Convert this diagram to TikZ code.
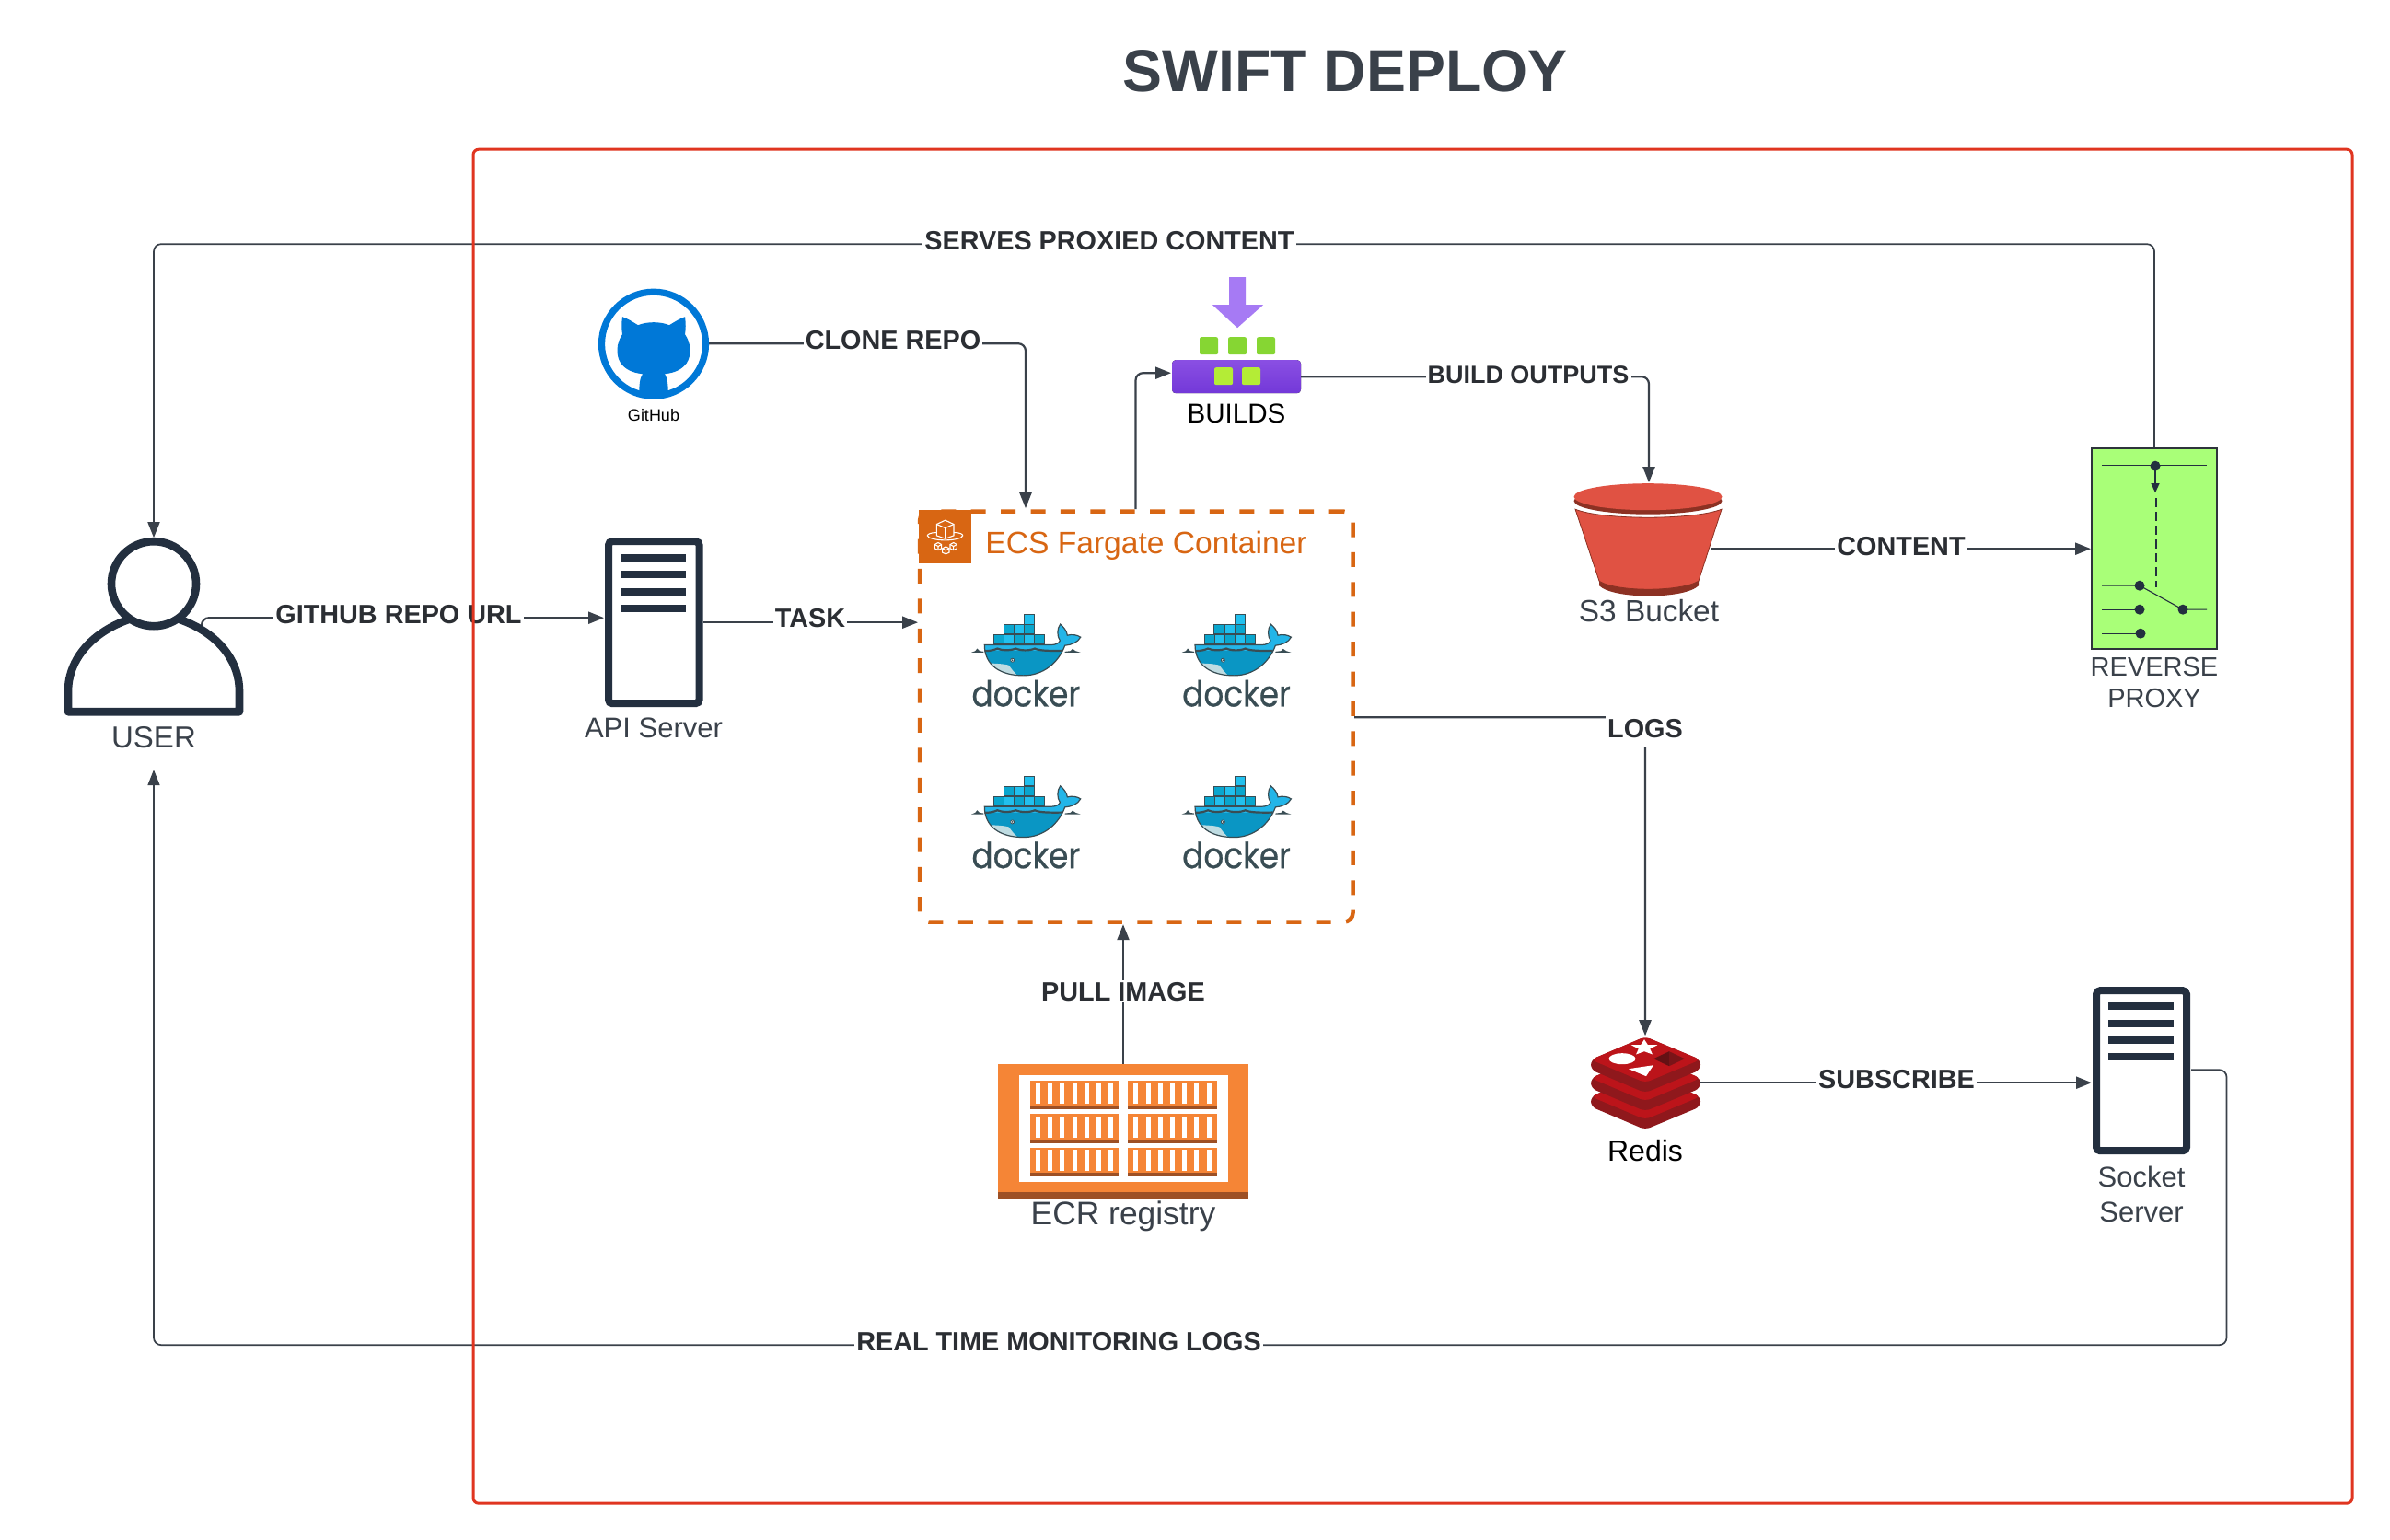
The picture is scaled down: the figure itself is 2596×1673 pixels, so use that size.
\documentclass[tikz,border=0pt]{standalone}
\usepackage{fontspec}
\setmainfont{Liberation Sans}
\newfontfamily\dockerfont{Poppins}[FakeBold=0.5]
\usetikzlibrary{arrows.meta,calc}
\definecolor{ink}{HTML}{3A414A}
\definecolor{lblink}{HTML}{2B2E33}
\definecolor{navy}{HTML}{232F3F}
\definecolor{framered}{HTML}{E03520}
\definecolor{ecsor}{HTML}{D86613}
\definecolor{ghblue}{HTML}{0078D7}
\definecolor{ecror}{HTML}{F58536}
\definecolor{ecrdk}{HTML}{9D5025}
\definecolor{s3l}{HTML}{E05243}
\definecolor{s3d}{HTML}{8C3123}
\definecolor{redl}{HTML}{BC141A}
\definecolor{redd}{HTML}{8F181C}
\definecolor{dkline}{HTML}{394D54}
\definecolor{dkdark}{HTML}{09A6CE}
\definecolor{dklight}{HTML}{22C0EE}
\definecolor{dkbody}{HTML}{0A96C4}
\definecolor{dkband}{HTML}{23B5E8}
\definecolor{dkbelly}{HTML}{BFDCE2}
\definecolor{proxyg}{HTML}{A9FF78}
\definecolor{barTop}{HTML}{8A4FE3}
\definecolor{barBot}{HTML}{7338D8}
\definecolor{sqA}{HTML}{B4EC36}
\definecolor{sqB}{HTML}{86D633}
\definecolor{arrowV}{HTML}{A67AF4}
\tikzset{
  conn/.style={draw=ink,line width=1.1pt,rounded corners=4pt,-{Triangle[length=8.5pt,width=6.5pt]}},
  connthin/.style={conn,line width=0.85pt},
  lbl/.style={fill=white,inner xsep=1pt,inner ysep=1pt,text=lblink,font={\fontsize{14.4pt}{17pt}\selectfont\bfseries}},
  captxt/.style={inner sep=0pt,text=ink,align=center,font={\fontsize{15.5pt}{17pt}\selectfont}},
  capk/.style={inner sep=0pt,text=black,align=center,font={\fontsize{15pt}{17pt}\selectfont}},
  srv/.style={draw=navy,line width=4pt,fill=white,rounded corners=2pt,inner sep=0pt},
  ghost/.style={inner sep=0pt,outer sep=0pt},
}
\newcommand\servlines[3]{% x1 x2 y0
  \foreach \k in {0,1,2,3}{\fill[navy] (#1,{#3+\k*18.3-4}) rectangle (#2,{#3+\k*18.3+4});}}
\newcommand\dockerlogo[3]{%
\begin{scope}[shift={(#2,#3)},x=0.16667pt,y=-0.16667pt]
  \foreach \xx/\yy/\cc in {238/445/dkdark,271/445/dklight,304/445/dkdark,337/445/dklight,370/445/dkdark,
                           270/412/dkdark,304/412/dklight,337/412/dkdark,337/380/dklight}{
    \filldraw[fill=\cc,draw=dkline,line width=0.5pt] (\xx,\yy) rectangle ++(33,31);}
  \def\whalepath{(208,478) -- (425,478) .. controls (440,478) and (452,472) .. (454,464) .. controls (444,450) and (444,425) .. (455,411) .. controls (466,420) and (476,432) .. (478,447) .. controls (492,443) and (510,445) .. (521,453) .. controls (512,470) and (492,478) .. (470,480) .. controls (450,535) and (400,578) .. (335,578) .. controls (260,578) and (208,545) .. (208,478) -- cycle}
  \fill[dkbody] \whalepath;
  \begin{scope}
    \clip \whalepath;
    \fill[dkband] (200,400) rectangle (530,497);
    \fill[dkbelly] (210,538) .. controls (240,538) and (275,540) .. (288,545) .. controls (295,555) and (305,570) .. (325,585) -- (210,585) -- cycle;
  \end{scope}
  \draw[dkline,line width=0.6pt] \whalepath;
  \draw[dkline,line width=1.1pt] (208,498) .. controls (225,498) and (240,495) .. (250,490) .. controls (262,496) and (290,498) .. (310,490) .. controls (325,497) and (355,498) .. (372,490) .. controls (385,497) and (420,498) .. (462,497);
  \fill[dkline] (165,503) -- (205,503) -- (205,500) -- (192,498) -- (184,490) -- (178,498) -- cycle;
  \fill[dkline] (470,503) -- (521,503) -- (505,498) -- (495,491) -- (488,498) -- (470,500) -- cycle;
  \filldraw[fill=white,draw=dkline,line width=0.4pt] (299,528) circle (6);
  \fill[dkline] (299,528) circle (3);
  \node[inner sep=0pt,text=dkline,font={\fontsize{19.5pt}{20pt}\dockerfont\selectfont}] (#1) at (343,636) {\scalebox{0.88}[1]{docker}};
\end{scope}}
\newcommand\ecrbox[2]{% x y in zoom coords
  \fill[ecror] (#1,#2) rectangle ++(289,94);
  \fill[ecrdk] (#1,{#2+83}) rectangle ++(289,11);
  \foreach \s in {0,...,6}{\fill[white] ({#1+18+\s*39.6},{#2+8}) rectangle ++(15,68);}}
\begin{document}
\begin{tikzpicture}[x=0.5pt,y=-0.5pt]
\useasboundingbox (0,-1.2) rectangle (2596,1671.8);
\fill[white] (0,-1.2) rectangle (2596,1671.8);

% ---- nodes used as connector ends
\node[ghost,minimum width=97pt,minimum height=97pt] (user) at (167,680) {};
\node[ghost,minimum width=30pt,minimum height=30pt] (github) at (710,372) {};
\node[ghost,minimum width=70pt,minimum height=18pt] (builds) at (1343,408) {};
\node[ghost,minimum width=80pt,minimum height=61pt] (s3) at (1791,584.5) {};
\node[ghost,minimum width=59.5pt,minimum height=50.5pt] (redis) at (1787.5,1175) {};
\node[ghost,minimum width=136pt,minimum height=73.5pt] (ecr) at (1220,1228.5) {};

\node[srv,minimum width=49.25pt,minimum height=88pt] (api) at (710.25,675) {};
\servlines{675}{745}{605}
\node[srv,minimum width=49pt,minimum height=87pt] (socket) at (2326,1162) {};
\servlines{2290}{2361}{1092}
\node[draw=ink!80!black,line width=1pt,fill=proxyg,minimum width=68pt,minimum height=109pt,inner sep=0pt] (proxy) at (2340,595) {};
\node[draw=ecsor,line width=2.25pt,dash pattern=on 8pt off 8.2pt,rounded corners=5pt,minimum width=235.25pt,minimum height=223pt,inner sep=0pt] (ecs) at (1234.25,777.5) {};

% ---- connector waypoints
\coordinate (usrout) at (219,680);
\coordinate (apiin) at (656,670);
\coordinate (apiout) at (764,675);
\coordinate (ecsin) at (997,675);
\coordinate (ghout) at (770,372);
\coordinate (ecstopa) at (1114,551);
\coordinate (ecstopb) at (1233.5,552);
\coordinate (bin) at (1272,404);
\coordinate (bout) at (1413,408);
\coordinate (s3top) at (1791,523);
\coordinate (s3out) at (1858,595);
\coordinate (prin) at (2271,595);
\coordinate (ecsout) at (1471,778);
\coordinate (redtop) at (1787,1124);
\coordinate (redout) at (1847,1175);
\coordinate (sockin) at (2272,1175);
\coordinate (sockout) at (2380,1161);
\coordinate (ecrtop) at (1220,1155);
\coordinate (ecsbot) at (1220,1003);
\coordinate (userbelow) at (167,835);

% ---- connectors
\draw[conn] (usrout) |- (apiin);
\draw[conn] (apiout) -- (ecsin);
\draw[conn] (ghout) -| (ecstopa);
\draw[conn] (ecstopb) |- (bin);
\draw[conn] (bout) -| (s3top);
\draw[conn] (s3out) -- (prin);
\draw[conn] (ecsout) -| (redtop);
\draw[conn] (redout) -- (sockin);
\draw[conn] (ecrtop) -- (ecsbot);
\draw[connthin] (proxy.north) |- (1000,264) -| (user.north);
\draw[connthin] (sockout) -- (2418.5,1161) -- (2418.5,1460) -- (167,1460) -- (userbelow);

% ---- connector labels
\node[lbl] (lgh) at (433,666) {GITHUB REPO URL};
\node[lbl] (ltask) at (880,670) {TASK};
\node[lbl] (lclone) at (970,368) {CLONE REPO};
\node[lbl,font={\fontsize{13.5pt}{17pt}\selectfont\bfseries}] (lbo) at (1660,406) {BUILD OUTPUTS};
\node[lbl] (lcontent) at (2065,592) {CONTENT};
\node[lbl] (lserves) at (1205,260) {SERVES PROXIED CONTENT};
\node[lbl,inner ysep=5pt] (llogs) at (1787,790) {LOGS};
\node[lbl] (lsub) at (2060,1171) {SUBSCRIBE};
\node[lbl] (lpull) at (1220,1076) {PULL IMAGE};
\node[lbl] (lreal) at (1150,1456) {REAL TIME MONITORING LOGS};

% ---- red frame
\node[draw=framered,line width=1.5pt,rounded corners=3pt,minimum width=1020.5pt,minimum height=735.5pt,inner sep=0pt] (frame) at (1534.5,896.5) {};

% ---- title
\node[inner sep=0pt,text=ink,font={\fontsize{32.2pt}{34pt}\selectfont\bfseries}] (title) at (1461,76) {SWIFT DEPLOY};

% ---- user icon
\filldraw[draw=navy,line width=4.3pt,fill=white,line join=round]
  (74,772) -- (74,750) .. controls (74,715) and (100,685) .. (142,671)
  -- (193,671)
  .. controls (235,685) and (260,715) .. (260,750) -- (260,772) -- cycle;
\filldraw[draw=navy,line width=4.3pt,fill=white] (167,633) circle (46);
\node[captxt,font={\fontsize{16.5pt}{17pt}\selectfont}] (tuser) at (167,800) {USER};
\node[captxt] (tapi) at (710,790) {API Server};

% ---- github
\draw[ghblue,line width=3.6pt,fill=white] (710,372.5) circle (56.5);
\begin{scope}
  \clip (710,372.5) circle (55);
  \fill[ghblue] (676,343) .. controls (682,345) and (688,349) .. (693,352)
    .. controls (703,348) and (717,348) .. (727,352)
    .. controls (732,349) and (738,345) .. (744,343)
    .. controls (745,350) and (745,356) .. (744,362)
    .. controls (751,372) and (751,385) .. (746,393)
    .. controls (741,400) and (733,404) .. (722,405)
    .. controls (725,410) and (726,414) .. (726,440) -- (694,440)
    .. controls (694,414) and (695,410) .. (698,405)
    .. controls (687,404) and (679,400) .. (674,393)
    .. controls (669,385) and (669,372) .. (676,362)
    .. controls (675,356) and (675,350) .. (676,343) -- cycle;
\end{scope}
\node[capk,font={\fontsize{9pt}{10pt}\selectfont}] (tgh) at (710,450) {GitHub};

% ---- builds icon
\fill[rounded corners=2pt,top color=barTop,bottom color=barBot] (1273,390) rectangle (1413,426);
\foreach \a in {1319,1349}{\fill[rounded corners=1pt,sqA] (\a,398) rectangle ++(20,19);}
\foreach \a in {1303,1334,1365}{\fill[rounded corners=1pt,sqB] (\a,365) rectangle ++(20,19);}
\fill[arrowV] (1335,300) -- (1353,300) -- (1353,330) -- (1372,330) -- (1344,355) -- (1317,330) -- (1335,330) -- cycle;
\node[capk,font={\fontsize{14.8pt}{17pt}\selectfont}] (tbuilds) at (1343,448) {BUILDS};

% ---- ECS header
\fill[ecsor] (998,553) rectangle (1055,610.5);
\begin{scope}[shift={(1000,540)},x=0.16667pt,y=-0.16667pt,draw=white,line width=0.55pt]
  \draw (80,72) -- (108,85) -- (108,122) -- (80,132) -- (52,122) -- (52,85) -- cycle;
  \draw (52,85) -- (80,97) -- (108,85) (80,97) -- (80,132);
  \draw (52,112) .. controls (32,112) and (22,118) .. (22,122) .. controls (22,130) and (50,137) .. (80,137) .. controls (110,137) and (137,130) .. (137,122) .. controls (137,118) and (130,112) .. (108,112);
  \foreach \cx/\cy in {57/157,82/170,107/157}{
    \draw (\cx,{\cy-12}) -- ({\cx+11},{\cy-6}) -- ({\cx+11},{\cy+7}) -- (\cx,{\cy+12}) -- ({\cx-11},{\cy+7}) -- ({\cx-11},{\cy-6}) -- cycle;
    \draw ({\cx-11},{\cy-6}) -- (\cx,\cy) -- ({\cx+11},{\cy-6}) (\cx,\cy) -- (\cx,{\cy+12});}
\end{scope}
\node[inner sep=0pt,text=ecsor,anchor=west,font={\fontsize{16.8pt}{18pt}\selectfont}] (tecs) at (1070,592) {ECS Fargate Container};

% ---- docker logos
\dockerlogo{dka}{1000}{540}
\dockerlogo{dkb}{1228.7}{540}
\dockerlogo{dkc}{1000}{715.7}
\dockerlogo{dkd}{1228.7}{715.7}

% ---- S3 bucket
\fill[s3d] (1737,622) -- (1845,622) -- (1845,635) .. controls (1830,650) and (1752,650) .. (1737,635) -- cycle;
\filldraw[fill=s3l,draw=s3d,line width=0.4pt] (1711,552) .. controls (1740,564) and (1840,564) .. (1870,552) -- (1845,630) .. controls (1825,642) and (1755,642) .. (1737,630) -- cycle;
\fill[s3d] (1790,543) ellipse [x radius=80.5,y radius=14.5];
\fill[s3l] (1790,538.5) ellipse [x radius=80.5,y radius=14.5];
\node[captxt,font={\fontsize{16.7pt}{18pt}\selectfont}] (ts3) at (1791,662) {S3 Bucket};
\node[captxt,font={\fontsize{14.5pt}{17pt}\selectfont}] (tproxy) at (2340,740) {REVERSE\\PROXY};

% ---- proxy internals
\begin{scope}[navy,line width=0.55pt]
  \draw (2283,504) -- (2397,504);
  \fill (2341,505) circle (5.5);
  \draw[-{Triangle[length=5pt,width=4.5pt]}] (2341,505) -- (2341,534);
  \draw[dash pattern=on 5pt off 2.5pt] (2342,540) -- (2342,637);
  \draw (2283,635) -- (2324,635) -- (2371,661) -- (2397,661);
  \draw (2283,661) -- (2324,661);
  \draw (2283,687) -- (2325,687);
  \fill (2324,635) circle (5.5) (2324,661) circle (5.5) (2325,687) circle (5.5) (2371,661) circle (5.5);
\end{scope}

% ---- ECR
\fill[ecror] (1084,1155) rectangle (1356,1302);
\fill[ecrdk] (1084,1294) rectangle (1356,1302);
\fill[white] (1107,1167) rectangle (1334,1283);
\begin{scope}[shift={(1040,1130)},x=0.16667pt,y=-0.16667pt]
  \foreach \cx in {237,556}{\foreach \cy in {128,237,346}{\ecrbox{\cx}{\cy}}}
\end{scope}
\node[captxt,font={\fontsize{17.7pt}{19pt}\selectfont}] (tecr) at (1220,1320) {ECR registry};

% ---- redis
\foreach \dy in {40,20,0}{
  \fill[redd,rounded corners=3pt] (1728,{1150+\dy}) -- (1787,{1125+\dy}) -- (1847,{1150+\dy}) -- (1847,{1161+\dy}) -- (1787,{1186+\dy}) -- (1728,{1161+\dy}) -- cycle;
  \fill[redl,rounded corners=3pt] (1728,{1150+\dy}) -- (1787,{1125+\dy}) -- (1847,{1150+\dy}) -- (1787,{1175+\dy}) -- cycle;
}
\fill[white] (1786,1128) -- (1789.8,1133.8) -- (1800.3,1134) -- (1792.2,1138.2) -- (1795,1144.3) -- (1786,1141) -- (1777,1144.3) -- (1779.8,1138.2) -- (1771.7,1134) -- (1782.2,1133.8) -- cycle;
\fill[white] (1762,1149) ellipse [x radius=14.5,y radius=6];
\fill[white] (1769,1160) -- (1796,1156) -- (1788,1168) -- cycle;
\fill[redd!70!black] (1796,1149) -- (1813,1141) -- (1813,1157) -- cycle;
\fill[redd!85!black] (1813,1141) -- (1830,1149) -- (1813,1157) -- cycle;
\node[capk,font={\fontsize{16pt}{17pt}\selectfont}] (tredis) at (1787,1249) {Redis};
\node[captxt,font={\fontsize{15.5pt}{19pt}\selectfont}] (tsock) at (2326,1296) {Socket\\Server};
\end{tikzpicture}
\end{document}
